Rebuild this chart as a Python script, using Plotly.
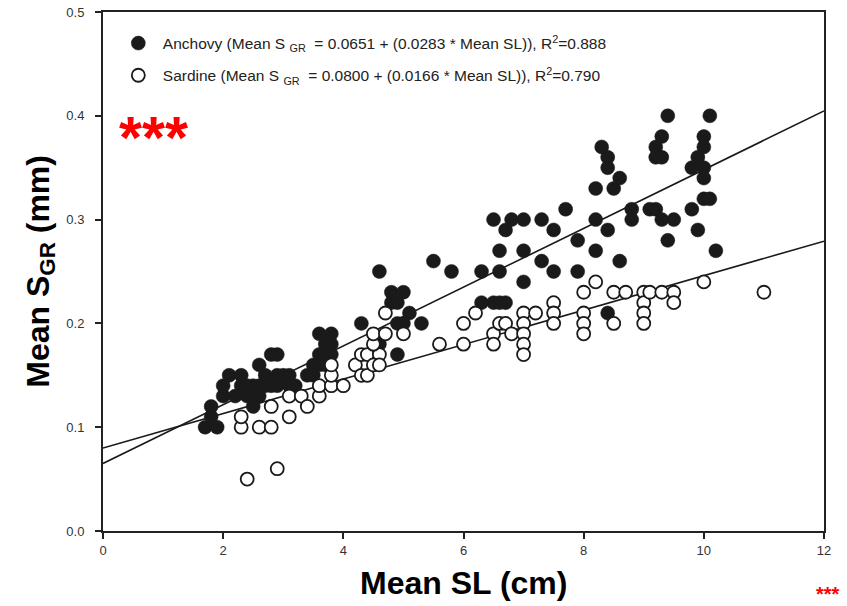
import plotly.graph_objects as go

# Anchovy (filled circles)
anchovy_sl = [1.7, 1.9, 1.8, 1.8, 2.0, 2.0, 2.1, 2.2, 2.3, 2.3, 2.4, 2.5, 2.5, 2.6, 2.6, 2.7, 2.7,
              2.8, 2.8, 2.9, 2.9, 3.0, 3.1, 3.1, 3.2, 3.4, 3.5, 3.5, 3.6, 3.6, 3.6, 3.7, 3.8, 3.8,
              3.8, 3.7, 2.6, 2.9, 2.4,
              4.3, 4.6, 4.6, 4.8, 5.0, 4.8, 4.9, 5.1, 4.9, 5.0, 5.3, 4.9, 5.5, 5.8, 6.3, 6.3, 6.5,
              6.6, 6.7, 6.5, 6.7, 6.8, 7.0, 7.3, 7.5, 7.7, 6.6, 7.0, 7.3, 6.6, 7.5, 7.0, 7.9, 7.9,
              8.2, 8.2, 8.2, 8.3, 8.4, 8.4, 8.5, 8.4, 8.6, 8.6, 8.4, 8.8, 8.8, 9.1, 9.2, 9.3, 9.5,
              9.4, 9.2, 9.2, 9.3, 9.3, 9.4, 9.8, 9.9, 10.2, 10.0, 10.0, 9.9, 9.8, 10.0, 10.0, 10.0,
              10.1, 10.1]
anchovy_sgr = [0.10, 0.10, 0.11, 0.12, 0.13, 0.14, 0.15, 0.13, 0.15, 0.14, 0.13, 0.12, 0.14, 0.13, 0.16, 0.14, 0.15,
               0.14, 0.17, 0.17, 0.14, 0.15, 0.15, 0.14, 0.14, 0.15, 0.15, 0.16, 0.16, 0.17, 0.19, 0.18, 0.19, 0.18,
               0.17, 0.16, 0.14, 0.15, 0.14,
               0.20, 0.25, 0.18, 0.23, 0.23, 0.22, 0.22, 0.21, 0.20, 0.20, 0.20, 0.17, 0.26, 0.25, 0.25, 0.22, 0.22,
               0.22, 0.22, 0.30, 0.29, 0.30, 0.30, 0.30, 0.29, 0.31, 0.27, 0.27, 0.26, 0.25, 0.25, 0.24, 0.28, 0.25,
               0.33, 0.30, 0.27, 0.37, 0.36, 0.35, 0.33, 0.29, 0.34, 0.26, 0.21, 0.31, 0.30, 0.31, 0.31, 0.30, 0.30,
               0.28, 0.37, 0.36, 0.36, 0.38, 0.40, 0.31, 0.29, 0.27, 0.38, 0.37, 0.36, 0.35, 0.35, 0.34, 0.32,
               0.32, 0.40]

# Sardine (open circles)
sardine_sl = [2.4, 2.9, 2.3, 2.3, 2.6, 2.8, 2.8, 3.1, 3.1, 3.3, 3.4, 3.6, 3.6, 3.8, 4.0, 3.8, 3.8, 4.2,
              4.3, 4.4, 4.3, 4.4, 4.6, 4.5, 4.6, 4.5, 4.5, 4.7, 5.0, 4.7, 5.6, 6.0, 6.0, 6.2, 6.5, 6.5,
              6.6, 6.7, 6.8, 7.0, 7.0, 7.0, 7.0, 7.0, 7.2, 7.5, 7.5, 7.5, 8.0, 8.0, 8.0, 8.0, 8.2, 8.5,
              8.5, 8.7, 9.0, 9.0, 9.0, 9.0, 9.1, 9.3, 9.5, 9.5, 10.0, 11.0]
sardine_sgr = [0.05, 0.06, 0.10, 0.11, 0.10, 0.10, 0.12, 0.11, 0.13, 0.13, 0.12, 0.13, 0.14, 0.14, 0.14, 0.15, 0.16, 0.16,
               0.15, 0.15, 0.17, 0.17, 0.17, 0.16, 0.16, 0.18, 0.19, 0.19, 0.19, 0.21, 0.18, 0.18, 0.20, 0.21, 0.19, 0.18,
               0.20, 0.20, 0.19, 0.21, 0.20, 0.19, 0.18, 0.17, 0.21, 0.22, 0.21, 0.20, 0.23, 0.21, 0.20, 0.19, 0.24, 0.23,
               0.20, 0.23, 0.23, 0.22, 0.21, 0.20, 0.23, 0.23, 0.23, 0.22, 0.24, 0.23]

# Regression coefficients (from legend)
anchovy_coef = (0.0651, 0.0283)
sardine_coef = (0.0800, 0.0166)
line_x = [0, 12]

x_ticks = [0, 2, 4, 6, 8, 10, 12]
y_ticks = [0.0, 0.1, 0.2, 0.3, 0.4, 0.5]

TICKFONT = "Liberation Sans Narrow, Arial Narrow, Liberation Sans, Arial, sans-serif"
TITLEFONT = "Liberation Sans Narrow, Arial Narrow, Liberation Sans, Arial, sans-serif"

fig = go.Figure()

for (a, b) in (anchovy_coef, sardine_coef):
    fig.add_trace(go.Scatter(x=line_x, y=[a + b * v for v in line_x], mode="lines",
                             line=dict(color="#1a1a1a", width=1.6), showlegend=False, hoverinfo="skip"))

fig.add_trace(go.Scatter(
    x=anchovy_sl, y=anchovy_sgr, mode="markers",
    name="Anchovy (Mean S <sub>GR</sub>  = 0.0651 + (0.0283 * Mean SL)), R<sup>2</sup>=0.888",
    marker=dict(symbol="circle", size=14, color="#1a1a1a", line=dict(color="#1a1a1a", width=0.5)),
    legendgroup="a"))
fig.add_trace(go.Scatter(
    x=sardine_sl, y=sardine_sgr, mode="markers",
    name="Sardine (Mean S <sub>GR</sub>  = 0.0800 + (0.0166 * Mean SL)), R<sup>2</sup>=0.790",
    marker=dict(symbol="circle", size=13, color="white", line=dict(color="#1a1a1a", width=1.8)),
    legendgroup="s"))

fig.update_layout(
    width=847, height=606,
    margin=dict(l=103, r=23, t=12, b=75, autoexpand=False),
    paper_bgcolor="white", plot_bgcolor="white",
    showlegend=True,
    legend=dict(x=0.015, y=0.972, xanchor="left", yanchor="top", bgcolor="rgba(0,0,0,0)",
                font=dict(family="Liberation Sans, Arial, sans-serif", size=15.5, color="#222"),
                tracegroupgap=9, itemwidth=39),
    xaxis=dict(range=[0, 12], tickvals=x_ticks, ticktext=[str(v) for v in x_ticks], automargin=False,
               showgrid=False, zeroline=False, showline=True, linecolor="#222", linewidth=2,
               mirror=True, ticks="outside", ticklen=6, tickwidth=2, tickcolor="#222",
               tickfont=dict(family=TICKFONT, size=13, color="#333")),
    yaxis=dict(range=[0, 0.5], tickvals=y_ticks, ticktext=[f"{v:.1f}" for v in y_ticks], automargin=False,
               showgrid=False, zeroline=False, showline=True, linecolor="#222", linewidth=2,
               mirror=True, ticks="outside", ticklen=6, tickwidth=2, tickcolor="#222",
               ticklabelstandoff=8,
               tickfont=dict(family=TICKFONT, size=13, color="#333")),
    annotations=[
        dict(text="<b>Mean SL (cm)</b>", xref="paper", yref="paper", x=0.5, y=-0.1,
             xanchor="center", yanchor="middle", showarrow=False,
             font=dict(family=TITLEFONT, size=32, color="black")),
        dict(text="<b>Mean S<sub>GR</sub> (mm)</b>", xref="paper", yref="paper", x=-0.087, y=0.5,
             xanchor="center", yanchor="middle", textangle=-90, showarrow=False,
             font=dict(family=TITLEFONT, size=32, color="black")),
        dict(text="<b>***</b>", xref="paper", yref="paper", x=0.019, y=0.758,
             xanchor="left", yanchor="middle", showarrow=False,
             font=dict(family="Liberation Sans, Arial, sans-serif", size=59, color="red")),
        dict(text="<b>***</b>", xref="paper", yref="paper", x=1.025, y=-0.121,
             xanchor="right", yanchor="middle", showarrow=False,
             font=dict(family="Liberation Sans Narrow, Liberation Sans, Arial, sans-serif", size=20, color="red")),
    ],
)

fig.write_html("out.html")
